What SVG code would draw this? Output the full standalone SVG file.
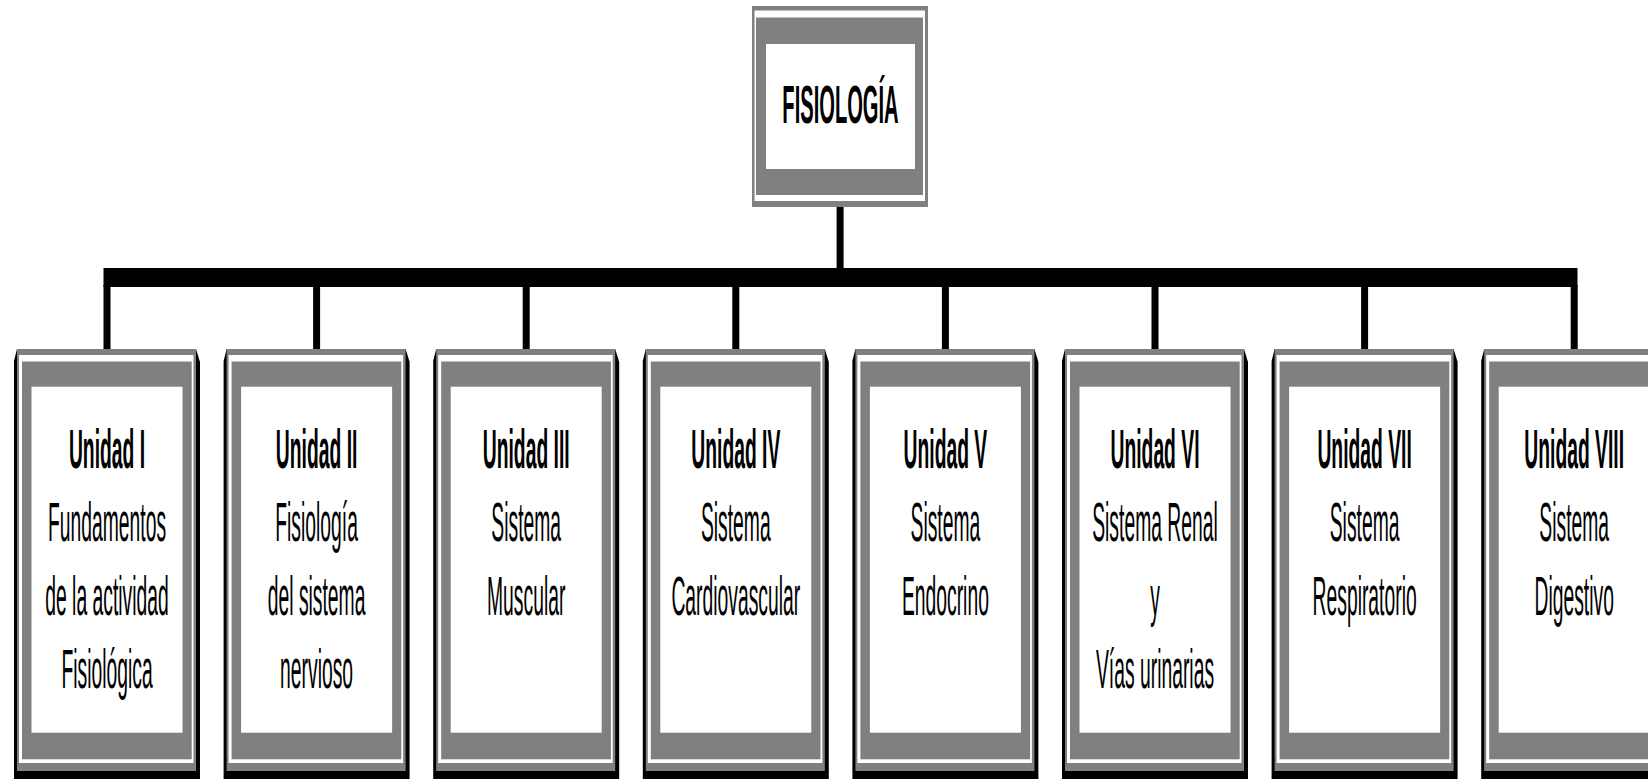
<svg xmlns="http://www.w3.org/2000/svg" xmlns:xlink="http://www.w3.org/1999/xlink" width="1648" height="779" viewBox="0 0 1648 779">
  <style>
    .gray { fill: #808080; }
    .white { fill: #ffffff; }
    .black { fill: #000000; }
    .t { font-family: "Liberation Sans", Arial, sans-serif; font-size: 56px; text-anchor: middle; fill: #000; }
    .b { font-weight: bold; }
    .title { font-family: "Liberation Sans", Arial, sans-serif; font-size: 53px; font-weight: bold; text-anchor: middle; fill: #000; }
  </style>
  <defs>
    <!-- unit frame: bevelled shadow, double gray border, white panel; centred on x = 0 -->
    <g id="unit-frame">
      <polygon class="black" points="-90,349 -93,361 -93,779 93,779 93,362 89,349"/>
      <rect class="gray" x="-90" y="349" width="179" height="422"/>
      <rect class="white" x="-88" y="355" width="174.5" height="408"/>
      <rect class="gray" x="-85" y="361.5" width="169.7" height="397.8"/>
      <rect class="white" x="-75.5" y="386.7" width="151" height="346"/>
    </g>
  </defs>

  <rect class="white" x="0" y="0" width="1648" height="779"/>

  <!-- connectors -->
  <g id="connectors" class="black">
    <rect x="836.6" y="205" width="7" height="65"/>
    <rect x="103.5" y="268" width="1474" height="19"/>
    <rect x="103.5" y="285" width="7" height="65"/>
    <rect x="313.1" y="285" width="7" height="65"/>
    <rect x="522.7" y="285" width="7" height="65"/>
    <rect x="732.3" y="285" width="7" height="65"/>
    <rect x="941.9" y="285" width="7" height="65"/>
    <rect x="1151.5" y="285" width="7" height="65"/>
    <rect x="1361.1" y="285" width="7" height="65"/>
    <rect x="1570.7" y="285" width="7" height="65"/>
  </g>

  <!-- root -->
  <g id="fisiologia">
    <rect class="gray" x="752" y="6" width="176" height="201"/>
    <rect class="white" x="754.5" y="10.5" width="170.5" height="190.5"/>
    <rect class="gray" x="756" y="17.5" width="167" height="177.5"/>
    <rect class="white" x="766" y="44" width="149" height="125"/>
    <g transform="translate(840.5,0) scale(0.38,1)">
      <text class="title" x="0" y="123">FISIOLOGÍA</text>
    </g>
  </g>

  <g id="unidad-1" transform="translate(107,0)">
    <use xlink:href="#unit-frame" href="#unit-frame"/>
    <g transform="scale(0.345,1)">
      <text class="t b" x="0" y="468">Unidad I</text>
      <text class="t" x="0" y="541">Fundamentos</text>
      <text class="t" x="0" y="615">de la actividad</text>
      <text class="t" x="0" y="688">Fisiológica</text>
    </g>
  </g>

  <g id="unidad-2" transform="translate(316.6,0)">
    <use xlink:href="#unit-frame" href="#unit-frame"/>
    <g transform="scale(0.345,1)">
      <text class="t b" x="0" y="468">Unidad II</text>
      <text class="t" x="0" y="541">Fisiología</text>
      <text class="t" x="0" y="615">del sistema</text>
      <text class="t" x="0" y="688">nervioso</text>
    </g>
  </g>

  <g id="unidad-3" transform="translate(526.2,0)">
    <use xlink:href="#unit-frame" href="#unit-frame"/>
    <g transform="scale(0.345,1)">
      <text class="t b" x="0" y="468">Unidad III</text>
      <text class="t" x="0" y="541">Sistema</text>
      <text class="t" x="0" y="615">Muscular</text>
    </g>
  </g>

  <g id="unidad-4" transform="translate(735.8,0)">
    <use xlink:href="#unit-frame" href="#unit-frame"/>
    <g transform="scale(0.345,1)">
      <text class="t b" x="0" y="468">Unidad IV</text>
      <text class="t" x="0" y="541">Sistema</text>
      <text class="t" x="0" y="615">Cardiovascular</text>
    </g>
  </g>

  <g id="unidad-5" transform="translate(945.4,0)">
    <use xlink:href="#unit-frame" href="#unit-frame"/>
    <g transform="scale(0.345,1)">
      <text class="t b" x="0" y="468">Unidad V</text>
      <text class="t" x="0" y="541">Sistema</text>
      <text class="t" x="0" y="615">Endocrino</text>
    </g>
  </g>

  <g id="unidad-6" transform="translate(1155,0)">
    <use xlink:href="#unit-frame" href="#unit-frame"/>
    <g transform="scale(0.345,1)">
      <text class="t b" x="0" y="468">Unidad VI</text>
      <text class="t" x="0" y="541">Sistema Renal</text>
      <text class="t" x="0" y="615">y</text>
      <text class="t" x="0" y="688">Vías urinarias</text>
    </g>
  </g>

  <g id="unidad-7" transform="translate(1364.6,0)">
    <use xlink:href="#unit-frame" href="#unit-frame"/>
    <g transform="scale(0.345,1)">
      <text class="t b" x="0" y="468">Unidad VII</text>
      <text class="t" x="0" y="541">Sistema</text>
      <text class="t" x="0" y="615">Respiratorio</text>
    </g>
  </g>

  <g id="unidad-8" transform="translate(1574.2,0)">
    <use xlink:href="#unit-frame" href="#unit-frame"/>
    <g transform="scale(0.345,1)">
      <text class="t b" x="0" y="468">Unidad VIII</text>
      <text class="t" x="0" y="541">Sistema</text>
      <text class="t" x="0" y="615">Digestivo</text>
    </g>
  </g>
</svg>
